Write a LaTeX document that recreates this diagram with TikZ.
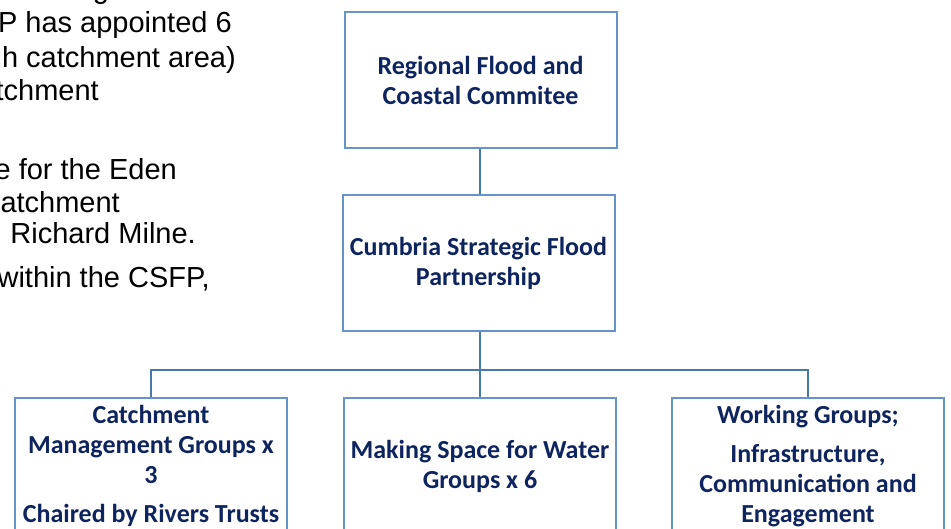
\documentclass[tikz,border=0pt]{standalone}
\usepackage{fontspec}
\setmainfont{Liberation Sans}
\newfontfamily\boxfont{Carlito}
\definecolor{boxline}{RGB}{100,148,200}
\definecolor{linkline}{RGB}{72,122,168}
\definecolor{boxtext}{RGB}{14,36,94}
\tikzset{
  orgbox/.style={draw=boxline,line width=2pt,minimum width=272pt,minimum height=136pt,
    inner sep=0pt,align=center,text=boxtext,font=\boxfont\bfseries\fontsize{26}{30}\selectfont},
  link/.style={draw=linkline,line width=2.6pt},
  note/.style={anchor=base east,inner sep=0pt,font=\fontsize{29}{34}\selectfont}
}
\begin{document}
\begin{tikzpicture}[x=1pt,y=-1pt]
    \useasboundingbox (0,0) rectangle (951,529);
    %左边被裁掉的正文
    \node[note] (t1) at (206,-1) {d strategic level.};
    \node[note] (t2) at (232,33) {P has appointed 6};
    \node[note] (t3) at (236,68) {h catchment area)};
    \node[note] (t4) at (99,101) {tchment};
    \node[note] (t5) at (177,180) {e for the Eden};
    \node[note] (t6) at (120,213) {atchment};
    \node[note] (t7) at (196,244) {. Richard Milne.};
    \node[note] (t8) at (210,288) {within the CSFP,};
    \node[orgbox] (rfcc) at (480.5,80) {Regional Flood and\\Coastal Commitee};
    \node[orgbox] (csfp) at (478.5,263.5) {Cumbria Strategic Flood\\Partnership};
    \node[orgbox] (cmg) at (151,466) {Catchment\\Management Groups x\\3\\[9pt]Chaired by Rivers Trusts};
    \node[orgbox] (msw) at (480,466) {Making Space for Water\\Groups x 6};
    \node[orgbox] (wg) at (808,466) {Working Groups;\\[9pt]Infrastructure,\\Communication and\\Engagement};
    \coordinate (bus) at (480,370);
    \draw[link] (rfcc.south-|bus) -- (csfp.north-|bus);
    \draw[link] (csfp.south-|bus) -- (bus);
    \draw[link] (cmg.north) |- (bus) -| (wg.north);
    \draw[link] (msw.north) -- (bus);
\end{tikzpicture}
\end{document}
